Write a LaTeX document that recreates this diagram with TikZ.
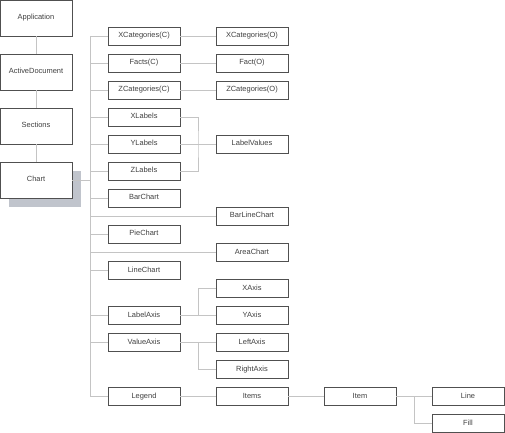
\documentclass[tikz,border=0pt]{standalone}
\usepackage{fontspec}
\setmainfont{Liberation Sans}
\usepackage{tikz}
\usetikzlibrary{calc}
\definecolor{boxline}{RGB}{80,80,80}
\definecolor{linkline}{RGB}{196,196,196}
\definecolor{chartshade}{RGB}{192,196,204}

\begin{document}
\begin{tikzpicture}[x=1bp, y=-1bp, line width=0.75bp,
  obj/.style={draw=boxline, fill=white, minimum width=72bp, minimum height=18bp,
    inner sep=0pt, text height=5.6bp, text depth=1.6bp,
    font=\fontsize{7.5}{9}\selectfont, text=black!75},
  top/.style={obj, minimum height=36bp},
  link/.style={draw=linkline}]
\useasboundingbox (0,0) rectangle (505,433);

% left column
\fill[chartshade] (9,171) rectangle (81,207);
\node[top] (app) at (36,18) {Application};
\node[top] (doc) at (36,72) {ActiveDocument};
\node[top] (sec) at (36,126) {Sections};
\node[top] (chart) at (36,180) {Chart};
\draw[link] (app) -- (doc);
\draw[link] (doc) -- (sec);
\draw[link] (sec) -- (chart);

% bus
\coordinate (bustop) at (90,36);
\coordinate (busbot) at (90,396);
\draw[link] (bustop) -- (busbot);
\draw[link] (chart.east) -- (chart.east -| bustop);

% second column
\node[obj] (xcatc) at (144,36) {XCategories(C)};
\node[obj] (factc) at (144,63) {Facts(C)};
\node[obj] (zcatc) at (144,90) {ZCategories(C)};
\node[obj] (xlab) at (144,117) {XLabels};
\node[obj] (ylab) at (144,144) {YLabels};
\node[obj] (zlab) at (144,171) {ZLabels};
\node[obj] (bar) at (144,198) {BarChart};
\node[obj] (pie) at (144,234) {PieChart};
\node[obj] (linec) at (144,270) {LineChart};
\node[obj] (labax) at (144,315) {LabelAxis};
\node[obj] (valax) at (144,342) {ValueAxis};
\node[obj] (legend) at (144,396) {Legend};

% third column
\node[obj] (xcato) at (252,36) {XCategories(O)};
\node[obj] (facto) at (252,63) {Fact(O)};
\node[obj] (zcato) at (252,90) {ZCategories(O)};
\node[obj] (labval) at (252,144) {LabelValues};
\node[obj] (barline) at (252,216) {BarLineChart};
\node[obj] (area) at (252,252) {AreaChart};
\node[obj] (xax) at (252,288) {XAxis};
\node[obj] (yax) at (252,315) {YAxis};
\node[obj] (leftax) at (252,342) {LeftAxis};
\node[obj] (rightax) at (252,369) {RightAxis};
\node[obj] (items) at (252,396) {Items};

% legend items
\node[obj] (item) at (360,396) {Item};
\node[obj] (lne) at (468,396) {Line};
\node[obj] (fill) at (468,423) {Fill};

% bus branches
\foreach \n in {xcatc,factc,zcatc,xlab,ylab,zlab,bar,pie,linec,labax,valax,legend,barline,area}
  \draw[link] (\n.west -| bustop) -- (\n.west);

\draw[link] (xcatc) -- (xcato);
\draw[link] (factc) -- (facto);
\draw[link] (zcatc) -- (zcato);

\coordinate (labfork) at (198,144);
\draw[link] (xlab.east) -| (labfork) |- (zlab.east);
\draw[link] (ylab) -- (labval);

\coordinate (axfork) at (198,315);
\draw[link] (labax) -- (yax);
\draw[link] (axfork) |- (xax.west);
\draw[link] (valax) -- (leftax);
\draw[link] (axfork |- valax) |- (rightax.west);

\draw[link] (legend) -- (items);
\draw[link] (items) -- (item);
\draw[link] (item) -- (lne);
\coordinate (itemfork) at (414,396);
\draw[link] (itemfork) |- (fill.west);
\end{tikzpicture}
\end{document}
